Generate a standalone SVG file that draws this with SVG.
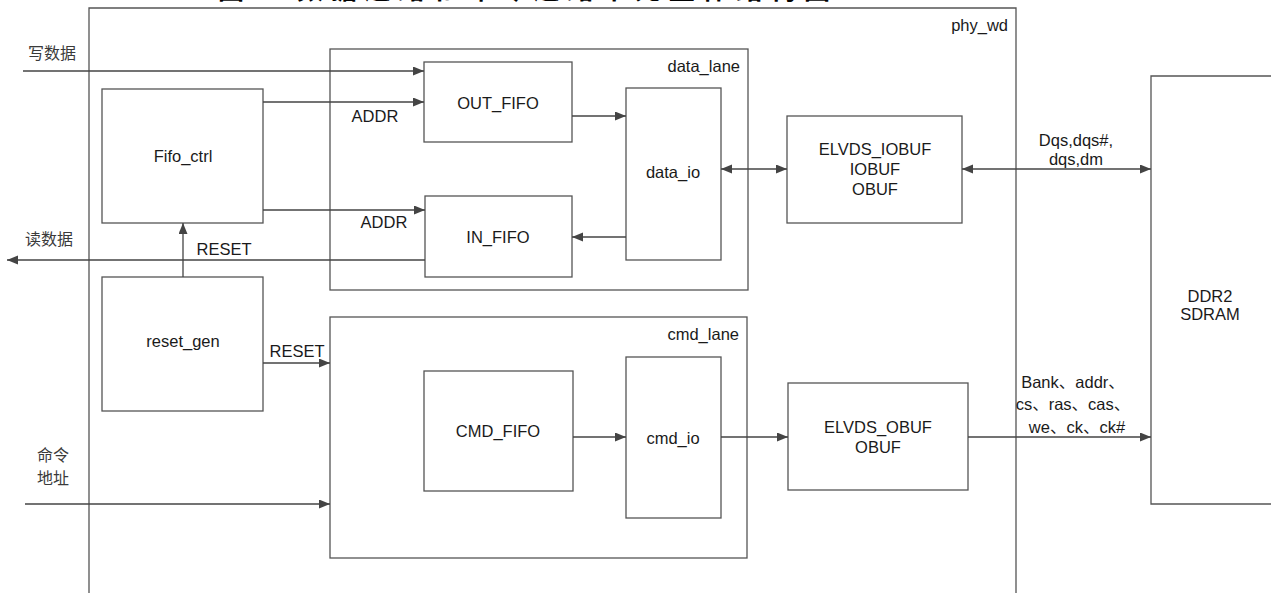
<svg xmlns="http://www.w3.org/2000/svg" width="1271" height="593" viewBox="0 0 1271 593">
<style>
.box{fill:#fff;stroke:#555;stroke-width:1.3}
.cont{fill:none;stroke:#555;stroke-width:1.3}
.ln{fill:none;stroke:#444;stroke-width:1.3}
.t{font-family:"Liberation Sans","Noto Sans CJK SC",Arial,sans-serif;font-size:16.5px;fill:#1a1a1a}
.m{text-anchor:middle}
.e{text-anchor:end}
.cn{font-family:"Noto Sans CJK SC","Liberation Sans",sans-serif;font-size:16px;fill:#3a3a3a}
.title{font-family:"Noto Sans CJK SC",sans-serif;font-size:26px;font-weight:bold;fill:#000}
</style>
<defs>
<marker id="ah" markerUnits="userSpaceOnUse" markerWidth="12" markerHeight="10" refX="11" refY="4.5" orient="auto-start-reverse">
<path d="M0,0 L11,4.5 L0,9 z" fill="#444"/>
</marker>
</defs>
<rect width="1271" height="593" fill="#fff"/>
<g id="title">
<text class="title" x="218" y="-1.5">图</text>
<text class="title" x="297" y="-1.5" textLength="533" lengthAdjust="spacing">数据通路和命令通路单元整体结构图</text>
</g>
<g id="phy_wd">
<path class="cont" d="M89,600 V8 H1016 V600"/>
<text class="t e" x="1008" y="31">phy_wd</text>
</g>
<g id="data_lane">
<rect class="box" x="330" y="49" width="418" height="241"/>
<text class="t e" x="740" y="72">data_lane</text>
</g>
<g id="cmd_lane">
<rect class="box" x="330" y="317" width="417" height="241"/>
<text class="t e" x="739" y="340">cmd_lane</text>
</g>
<g id="fifo_ctrl">
<rect class="box" x="102" y="89" width="161" height="134"/>
<text class="t m" x="183" y="162">Fifo_ctrl</text>
</g>
<g id="reset_gen">
<rect class="box" x="102" y="277" width="161" height="134"/>
<text class="t m" x="183" y="347">reset_gen</text>
</g>
<g id="out_fifo">
<rect class="box" x="424" y="62" width="148" height="80"/>
<text class="t m" x="498" y="109">OUT_FIFO</text>
</g>
<g id="in_fifo">
<rect class="box" x="425" y="196" width="147" height="81"/>
<text class="t m" x="498" y="243">IN_FIFO</text>
</g>
<g id="data_io">
<rect class="box" x="626" y="88" width="95" height="172"/>
<text class="t m" x="673" y="178">data_io</text>
</g>
<g id="cmd_fifo">
<rect class="box" x="424" y="371" width="149" height="120"/>
<text class="t m" x="498" y="437">CMD_FIFO</text>
</g>
<g id="cmd_io">
<rect class="box" x="626" y="357" width="95" height="161"/>
<text class="t m" x="673" y="444">cmd_io</text>
</g>
<g id="elvds_iobuf">
<rect class="box" x="787" y="116" width="175" height="107"/>
<text class="t m" x="875" y="155">ELVDS_IOBUF</text>
<text class="t m" x="875" y="175">IOBUF</text>
<text class="t m" x="875" y="195">OBUF</text>
</g>
<g id="elvds_obuf">
<rect class="box" x="788" y="383" width="180" height="107"/>
<text class="t m" x="878" y="433">ELVDS_OBUF</text>
<text class="t m" x="878" y="453">OBUF</text>
</g>
<g id="ddr2">
<path class="cont" d="M1280,76 H1151 V504 H1280"/>
<text class="t m" x="1210" y="302">DDR2</text>
<text class="t m" x="1210" y="320">SDRAM</text>
</g>
<g id="connectors">
<line class="ln" x1="23" y1="71" x2="424" y2="71" marker-end="url(#ah)"/>
<line class="ln" x1="263" y1="102" x2="424" y2="102" marker-end="url(#ah)"/>
<line class="ln" x1="263" y1="210" x2="425" y2="210" marker-end="url(#ah)"/>
<line class="ln" x1="425" y1="260" x2="7" y2="260" marker-end="url(#ah)"/>
<line class="ln" x1="183" y1="277" x2="183" y2="223" marker-end="url(#ah)"/>
<line class="ln" x1="263" y1="363" x2="330" y2="363" marker-end="url(#ah)"/>
<line class="ln" x1="25" y1="504" x2="330" y2="504" marker-end="url(#ah)"/>
<line class="ln" x1="572" y1="116" x2="626" y2="116" marker-end="url(#ah)"/>
<line class="ln" x1="626" y1="237" x2="572" y2="237" marker-end="url(#ah)"/>
<line class="ln" x1="721" y1="169" x2="787" y2="169" marker-start="url(#ah)" marker-end="url(#ah)"/>
<line class="ln" x1="962" y1="169" x2="1151" y2="169" marker-start="url(#ah)" marker-end="url(#ah)"/>
<line class="ln" x1="573" y1="437" x2="626" y2="437" marker-end="url(#ah)"/>
<line class="ln" x1="721" y1="437" x2="788" y2="437" marker-end="url(#ah)"/>
<line class="ln" x1="968" y1="437" x2="1151" y2="437" marker-end="url(#ah)"/>
<text class="cn" x="28" y="59">写数据</text>
<text class="cn" x="25" y="245">读数据</text>
<text class="cn" x="37" y="461">命令</text>
<text class="cn" x="37" y="484">地址</text>
<text class="t m" x="375" y="122">ADDR</text>
<text class="t m" x="384" y="228">ADDR</text>
<text class="t m" x="224" y="255">RESET</text>
<text class="t m" x="297" y="357">RESET</text>
<text class="t m" x="1076" y="146">Dqs,dqs#,</text>
<text class="t m" x="1076" y="165">dqs,dm</text>
<text class="t m" x="1073" y="388">Bank、addr、</text>
<text class="t m" x="1073" y="410">cs、ras、cas、</text>
<text class="t m" x="1077" y="433">we、ck、ck#</text>
</g>
</svg>
